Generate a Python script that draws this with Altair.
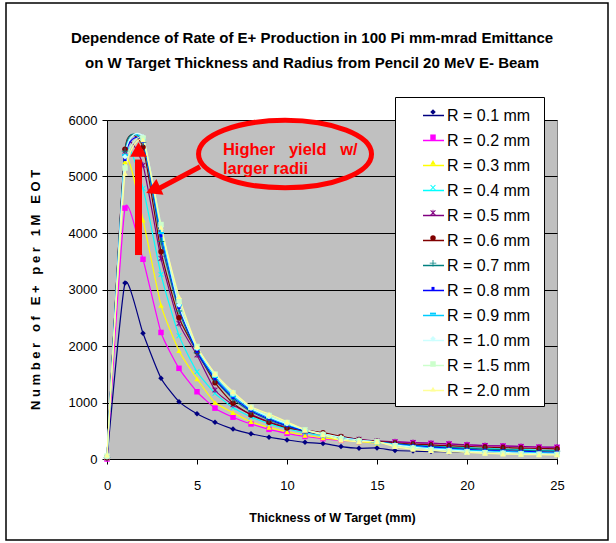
import altair as alt
import pandas as pd

# ---------------- data ----------------
thickness = list(range(26))  # W target thickness (mm)
radii = ["R = 0.1 mm", "R = 0.2 mm", "R = 0.3 mm", "R = 0.4 mm", "R = 0.5 mm", "R = 0.6 mm",
         "R = 0.7 mm", "R = 0.8 mm", "R = 0.9 mm", "R = 1.0 mm", "R = 1.5 mm", "R = 2.0 mm"]

r01 = [0, 3115, 2225, 1430, 1015, 800, 650, 530, 445, 385, 336, 295, 275, 220, 190, 195, 150, 140, 132, 126, 120, 115, 110, 105, 100, 95]
r02 = [0, 4440, 3535, 2240, 1605, 1190, 900, 740, 620, 525, 455, 400, 360, 330, 310, 300, 300, 289, 277, 265, 248, 235, 230, 220, 210, 207]
r03 = [20, 5260, 4230, 2720, 1917, 1420, 1000, 820, 660, 560, 480, 420, 375, 335, 305, 280, 260, 240, 220, 200, 185, 170, 160, 150, 140, 130]
r04 = [20, 5400, 4790, 3265, 2183, 1545, 1162, 910, 745, 625, 535, 465, 410, 365, 325, 295, 270, 250, 230, 215, 200, 185, 175, 165, 155, 150]
r05 = [20, 5450, 5200, 3550, 2400, 1840, 1221, 960, 790, 660, 565, 490, 435, 390, 350, 320, 306, 292, 280, 268, 252, 238, 232, 222, 212, 210]
r06 = [20, 5481, 5520, 3670, 2500, 1900, 1351, 986, 779, 650, 550, 510, 466, 400, 340, 310, 285, 265, 250, 235, 222, 212, 202, 194, 186, 180]
r07 = [30, 5450, 5600, 3850, 2620, 1880, 1400, 1060, 840, 690, 580, 495, 430, 375, 330, 300, 270, 245, 225, 205, 190, 175, 165, 155, 145, 140]
r08 = [30, 5300, 5620, 3950, 2680, 1900, 1420, 1090, 860, 710, 590, 500, 435, 380, 335, 300, 265, 235, 210, 190, 170, 155, 145, 135, 125, 120]
r09 = [30, 5380, 5650, 4000, 2720, 1940, 1450, 1110, 880, 730, 610, 510, 440, 380, 335, 300, 260, 225, 195, 175, 155, 140, 130, 120, 110, 105]
r10 = [40, 5350, 5705, 4112, 2726, 1960, 1487, 1150, 900, 750, 625, 520, 445, 385, 335, 300, 250, 210, 180, 160, 140, 125, 115, 105, 95, 90]
r15 = [50, 5150, 5680, 4150, 2800, 1990, 1500, 1170, 915, 770, 645, 515, 435, 360, 320, 305, 235, 190, 160, 140, 125, 110, 100, 90, 85, 80]
r20 = [70, 5057, 5650, 4100, 2873, 1988, 1517, 1191, 926, 796, 660, 513, 425, 336, 306, 306, 218, 171, 147, 130, 118, 100, 88, 80, 75, 71]
series = [r01, r02, r03, r04, r05, r06, r07, r08, r09, r10, r15, r20]

colors = ["#000080", "#FF00FF", "#FFFF00", "#00FFFF", "#800080", "#800000",
          "#008080", "#0000FF", "#00CCFF", "#CCFFFF", "#CCFFCC", "#FFFF99"]
X_SHAPE = "M-1,-0.75L-0.75,-1L1,0.75L0.75,1Z M-1,0.75L0.75,-1L1,-0.75L-0.75,1Z"
STAR_SHAPE = X_SHAPE + " M-0.15,-1.1L0.15,-1.1L0.15,1.1L-0.15,1.1Z"
PLUS_SHAPE = "M-1.2,-0.15L1.2,-0.15L1.2,0.15L-1.2,0.15Z M-0.15,-1.2L0.15,-1.2L0.15,1.2L-0.15,1.2Z"
shapes = ["diamond", "square", "triangle-up", X_SHAPE, STAR_SHAPE, "circle", PLUS_SHAPE,
          "M-0.55,-0.55L0.55,-0.55L0.55,0.55L-0.55,0.55Z",
          "M-1.1,-0.35L1.1,-0.35L1.1,0.35L-1.1,0.35Z",
          "diamond", "square", "triangle-up"]

# annotation (data coordinates)
NB = "\u00a0"
ann_text_x = [6.44, 6.44]
ann_text_y = [5381, 5039]
ann_text = ["Higher" + NB * 3 + "yield" + NB * 3 + "w/", "larger radii"]
ellipse_x, ellipse_y = [9.89], [5398]
vshaft_x, vshaft_y, vshaft_y2 = [1.75], [3610], [5300]
vhead_x, vhead_y = [1.75], [5480]
dshaft_x, dshaft_y, dshaft_x2, dshaft_y2 = [5.17], [5173], [2.89], [4788]
dhead_x, dhead_y = [2.56], [4761]

# line keys carry legend labels; marker keys are distinct strings so their legend stays separate
line_keys = list(radii)
marker_keys = [r + NB for r in radii]

rows = []
for lk, mk, vals in zip(line_keys, marker_keys, series):
    for t, v in zip(thickness, vals):
        rows.append({"t": t, "n": v, "R": lk, "K": mk})
df = pd.DataFrame(rows)

SANS = "Liberation Sans, Arial, sans-serif"
ytitle_words = ["Number", "of", "E+", "per", "1M", "EOT"]
ytitle = (NB * 3).join(NB.join(w) for w in ytitle_words)

xscale = alt.Scale(domain=[0, 25], nice=False)
yscale = alt.Scale(domain=[0, 6000], nice=False)

x_enc = alt.X("t:Q", scale=xscale, axis=alt.Axis(
    values=[0, 5, 10, 15, 20, 25], grid=False, title="Thickness of W Target (mm)",
    titleFont=SANS, titleFontSize=12.5, titleFontWeight="bold", titleColor="black", titlePadding=19,
    labelFont=SANS, labelFontSize=13, labelColor="black", labelPadding=15,
    tickSize=5, tickColor="black", domainColor="black", labelFlush=False))
y_enc = alt.Y("n:Q", scale=yscale, axis=alt.Axis(
    values=[0, 1000, 2000, 3000, 4000, 5000, 6000], grid=True, gridColor="black", gridWidth=1,
    format="d", title=ytitle,
    titleFont=SANS, titleFontSize=13, titleFontWeight="bold", titleColor="black", titlePadding=26,
    labelFont=SANS, labelFontSize=13, labelColor="black", labelPadding=5,
    tickSize=5, tickColor="black", domainColor="black"))

common_legend = dict(orient="none", legendX=288, legendY=-23, padding=7,
                     labelFont=SANS, labelFontSize=16, labelColor="black")

lines = alt.Chart(df).mark_line(interpolate="cardinal", tension=0.5, strokeWidth=1.2).encode(
    x=x_enc, y=y_enc,
    stroke=alt.Stroke("R:N", scale=alt.Scale(domain=line_keys, range=colors),
                      legend=alt.Legend(title=".", titleOrient="right", titleFontSize=10,
                                        titlePadding=4, titleOpacity=0,
                                        symbolType="stroke", symbolSize=441, symbolStrokeWidth=1.5,
                                        fillColor="white", strokeColor="black", symbolOffset=20,
                                        labelOffset=2, rowPadding=5, zindex=1, **common_legend)),
    detail="R:N")

marker_legend = alt.Legend(title=None, symbolSize=30, labelExpr="''", symbolOpacity=1, rowPadding=9.2,
                           symbolOffset=23, labelOffset=2, zindex=2, **common_legend)
points = alt.Chart(df).mark_point(filled=True, size=30, opacity=1).encode(
    x="t:Q", y="n:Q",
    color=alt.Color("K:N", scale=alt.Scale(domain=marker_keys, range=colors), legend=marker_legend),
    shape=alt.Shape("K:N", scale=alt.Scale(domain=marker_keys, range=shapes), legend=marker_legend))

RED = "#FF0000"
ell = alt.Chart(pd.DataFrame({"x": ellipse_x, "y": ellipse_y})).mark_point(
    shape="M-1,0A1,0.39 0 1,0 1,0A1,0.39 0 1,0 -1,0", size=29929, filled=False,
    stroke=RED, strokeWidth=5, opacity=1).encode(x="x:Q", y="y:Q")
txt = alt.Chart(pd.DataFrame({"x": ann_text_x, "y": ann_text_y, "s": ann_text})).mark_text(
    align="left", baseline="alphabetic", font=SANS, fontSize=16.5, fontWeight="bold", color=RED
).encode(x="x:Q", y="y:Q", text="s:N")
vshaft = alt.Chart(pd.DataFrame({"x": vshaft_x, "y": vshaft_y, "y2": vshaft_y2})).mark_rule(
    color=RED, strokeWidth=7).encode(x="x:Q", y="y:Q", y2="y2:Q")
vhead = alt.Chart(pd.DataFrame({"x": vhead_x, "y": vhead_y})).mark_point(
    shape="triangle-up", size=280, filled=True, color=RED, opacity=1).encode(x="x:Q", y="y:Q")
dshaft = alt.Chart(pd.DataFrame({"x": dshaft_x, "y": dshaft_y, "x2": dshaft_x2, "y2": dshaft_y2})).mark_rule(
    color=RED, strokeWidth=5).encode(x="x:Q", y="y:Q", x2="x2:Q", y2="y2:Q")
dhead = alt.Chart(pd.DataFrame({"x": dhead_x, "y": dhead_y})).mark_point(
    shape="triangle-left", size=300, filled=True, color=RED, opacity=1, angle=336).encode(x="x:Q", y="y:Q")

frame = alt.Chart(pd.DataFrame({"a": [0]})).mark_rect(
    fillOpacity=0, stroke="black", strokeWidth=1.5, clip=False).encode(
    x=alt.value(-101), x2=alt.value(501), y=alt.value(-117), y2=alt.value(420))

chart = alt.layer(lines, points, ell, txt, vshaft, vhead, dshaft, dhead, frame).properties(
    width=450, height=339,
    title=alt.TitleParams(
        ["Dependence of Rate of E+ Production in 100 Pi mm-mrad Emittance",
         "on W Target Thickness and Radius from Pencil 20 MeV E- Beam"],
        font=SANS, fontSize=15, fontWeight="bold", color="black", lineHeight=25,
        anchor="middle", dx=-20, dy=99, offset=30),
    autosize=alt.AutoSizeParams(type="none"),
    padding={"left": 107, "top": 120, "right": 59, "bottom": 84},
    background="white",
).configure_view(fill="#C0C0C0", stroke="#808080")

chart.save("out.html", embed_options={"renderer": "svg", "actions": False})
